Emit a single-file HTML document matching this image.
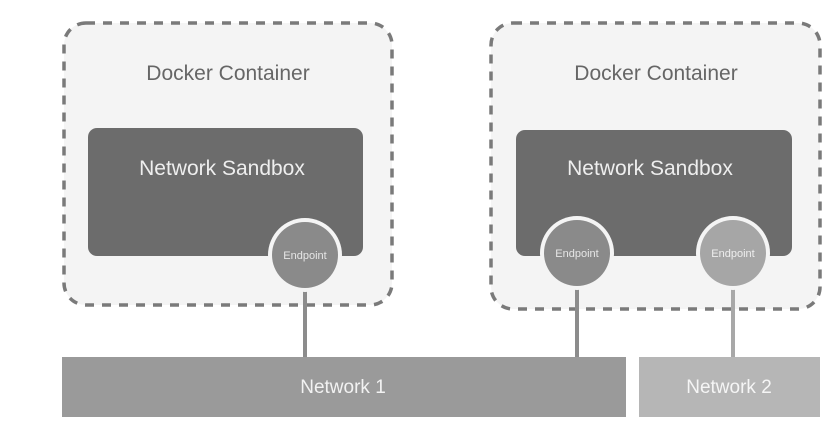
<!DOCTYPE html>
<html><head><style>
html,body{margin:0;padding:0;background:#fff;}
svg{display:block;}
text{font-family:"Liberation Sans",sans-serif;}
</style></head><body>
<svg width="828" height="433" viewBox="0 0 828 433" xmlns="http://www.w3.org/2000/svg">
<rect x="0" y="0" width="828" height="433" fill="#ffffff"/>
<rect x="64" y="23" width="328" height="282" rx="22" fill="#f4f4f4" stroke="#7a7a7a" stroke-width="3.5" stroke-dasharray="9,8"/>
<rect x="491" y="23" width="329" height="286" rx="22" fill="#f4f4f4" stroke="#7a7a7a" stroke-width="3.5" stroke-dasharray="9,8"/>
<text x="228" y="80" font-size="21" fill="#666666" text-anchor="middle">Docker Container</text>
<text x="656" y="80" font-size="21" fill="#666666" text-anchor="middle">Docker Container</text>
<rect x="88" y="128" width="275" height="128" rx="9" fill="#6c6c6c"/>
<rect x="516" y="130" width="276" height="126" rx="9" fill="#6c6c6c"/>
<text x="222" y="175" font-size="21" fill="#eeeeee" text-anchor="middle">Network Sandbox</text>
<text x="650" y="175" font-size="21" fill="#eeeeee" text-anchor="middle">Network Sandbox</text>
<line x1="305" y1="280" x2="305" y2="358" stroke="#8c8c8c" stroke-width="4"/>
<line x1="577" y1="280" x2="577" y2="358" stroke="#8c8c8c" stroke-width="4"/>
<line x1="733" y1="280" x2="733" y2="358" stroke="#a8a8a8" stroke-width="4"/>
<circle cx="305" cy="255" r="37" fill="#f4f4f4"/>
<circle cx="305" cy="255" r="33" fill="#8a8a8a"/>
<text x="305" y="259" font-size="11" fill="#e6e6e6" text-anchor="middle">Endpoint</text>
<circle cx="577" cy="253" r="37" fill="#f4f4f4"/>
<circle cx="577" cy="253" r="33" fill="#8a8a8a"/>
<text x="577" y="257" font-size="11" fill="#e6e6e6" text-anchor="middle">Endpoint</text>
<circle cx="733" cy="253" r="37" fill="#f4f4f4"/>
<circle cx="733" cy="253" r="33" fill="#a6a6a6"/>
<text x="733" y="257" font-size="11" fill="#eeeeee" text-anchor="middle">Endpoint</text>
<rect x="62" y="357" width="564" height="60" fill="#9a9a9a"/>
<text x="343" y="393" font-size="19" fill="#f2f2f2" text-anchor="middle">Network 1</text>
<rect x="639" y="357" width="181" height="60" fill="#b6b6b6"/>
<text x="729" y="393" font-size="19" fill="#f5f5f5" text-anchor="middle">Network 2</text>
</svg>
</body></html>
